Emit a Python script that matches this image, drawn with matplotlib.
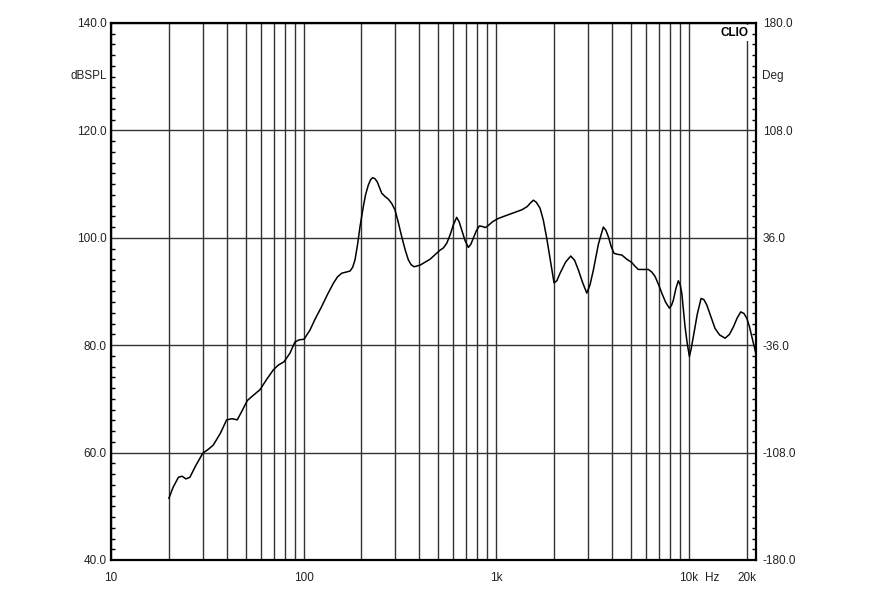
import matplotlib
matplotlib.use("Agg")
import matplotlib.pyplot as plt
from matplotlib.ticker import FixedLocator, MultipleLocator, NullFormatter

# frequency response (Hz, dBSPL)
freq = [20.0, 21.0, 22.4, 23.4, 24.5, 25.7, 27.5, 30.0, 32.0, 34.0,
        37.0, 39.9, 42.5, 45.3, 48.0, 51.1, 55.0, 59.4, 64.0, 69.7,
        74.0, 79.2, 85.0, 90.3, 95.0, 100.6, 108, 115, 124.3, 133,
        142.8, 150, 157.9, 166, 174.4, 180, 185.2, 191, 196.6, 204.5,
        210, 217, 223, 228.8, 235, 241.7, 248, 254.8, 265, 275.7,
        287, 298.7, 310, 323.7, 337, 350.3, 362, 375, 402.9, 430,
        454.1, 480, 511.9, 532.5, 555, 576.8, 600, 624.7, 643, 663,
        690, 718, 740, 762, 790, 819, 850, 880, 912, 960,
        1028, 1100, 1182, 1270, 1360, 1450, 1520, 1562, 1620, 1693,
        1760, 1834, 1920, 2001, 2070, 2150, 2300, 2444, 2560, 2677,
        2820, 2960, 3080, 3203, 3400, 3609, 3720, 3832, 3960, 4102,
        4300, 4498, 4780, 5069, 5270, 5485, 5800, 6183, 6450, 6699,
        7000, 7259, 7600, 7950, 8150, 8337, 8600, 8851, 9050, 9220,
        9400, 9590, 9850, 10100, 10300, 10590, 11100, 11610, 12000, 12430,
        13000, 13730, 14500, 15480, 16300, 17090, 17900, 18670, 19400, 20060,
        20700, 21300, 21900, 22400]
spl = [51.5, 53.5, 55.4, 55.6, 55.1, 55.4, 57.5, 59.9, 60.6, 61.4,
       63.6, 66.1, 66.3, 66.1, 67.8, 69.7, 70.7, 71.7, 73.5, 75.4,
       76.3, 76.9, 78.5, 80.6, 81.0, 81.1, 82.8, 84.9, 87.2, 89.4,
       91.5, 92.7, 93.4, 93.6, 93.8, 94.5, 95.9, 98.8, 102.1, 105.8,
       108.0, 109.8, 110.8, 111.2, 111.0, 110.4, 109.4, 108.3, 107.7, 107.2,
       106.4, 105.2, 103.0, 100.2, 97.8, 95.9, 95.0, 94.6, 94.9, 95.5,
       96.0, 96.8, 97.7, 98.1, 99.0, 100.5, 102.4, 103.8, 103.0, 101.5,
       99.5, 98.2, 98.8, 99.9, 101.3, 102.2, 102.1, 101.9, 102.3, 103.0,
       103.6, 104.0, 104.4, 104.8, 105.2, 105.8, 106.6, 107.0, 106.6, 105.5,
       103.3, 99.9, 95.6, 91.6, 92.0, 93.4, 95.5, 96.6, 95.8, 94.0,
       91.6, 89.7, 91.3, 94.0, 98.8, 102.0, 101.4, 100.2, 98.4, 97.1,
       96.9, 96.8, 96.0, 95.4, 94.7, 94.1, 94.1, 94.1, 93.6, 92.8,
       91.2, 89.7, 88.0, 86.9, 87.4, 88.4, 90.6, 92.0, 91.2, 89.7,
       86.5, 83.4, 80.2, 77.9, 79.2, 81.6, 85.8, 88.7, 88.5, 87.5,
       85.5, 83.1, 81.9, 81.3, 82.0, 83.4, 85.1, 86.2, 85.9, 85.0,
       83.5, 81.6, 79.8, 78.3]

x_major = [10, 100, 1000, 10000, 20000]
x_major_labels = ["10", "100", "1k", "10k", "20k"]
x_minor = [m * d for d in (10, 100, 1000) for m in range(2, 10)]
y_left = [40, 60, 80, 100, 120, 140]
y_right = [-180, -108, -36, 36, 108, 180]

plt.rcParams["font.family"] = ["Liberation Sans", "DejaVu Sans"]
txt = "#222222"
grid_c = "#333333"

fig = plt.figure(figsize=(8.8, 6.0), dpi=100)
ax = fig.add_axes([0.1261, 0.0667, 0.7330, 0.895])
ax.plot(freq, spl, color="black", lw=1.1, zorder=3)

ax.set_xscale("log")
ax.set_xlim(10, 22400)
ax.set_ylim(40, 140)

ax.xaxis.set_major_locator(FixedLocator(x_major))
ax.set_xticklabels(x_major_labels)
ax.xaxis.set_minor_locator(FixedLocator(x_minor))
ax.xaxis.set_minor_formatter(NullFormatter())
ax.set_yticks(y_left)
ax.set_yticklabels([f"{v:.1f}" for v in y_left])
ax.yaxis.set_minor_locator(MultipleLocator(2))

ax.grid(True, which="both", axis="x", color=grid_c, lw=1.0)
ax.grid(True, which="major", axis="y", color=grid_c, lw=1.0)
ax.tick_params(axis="x", which="both", length=0, pad=9, labelsize=8.5, labelcolor=txt)
ax.tick_params(axis="y", which="major", length=0, pad=3, labelsize=8.5, labelcolor=txt)
ax.tick_params(axis="y", which="minor", direction="in", length=3, width=1, color="black")
for s in ax.spines.values():
    s.set_linewidth(1.6)

ax2 = ax.twinx()
ax2.set_ylim(-180, 180)
ax2.set_yticks(y_right)
ax2.set_yticklabels([f"{v:.1f}" for v in y_right])
ax2.yaxis.set_minor_locator(MultipleLocator(7.2))
ax2.tick_params(axis="y", which="major", length=0, pad=5, labelsize=8.5, labelcolor=txt)
ax2.tick_params(axis="y", which="minor", direction="in", length=3, width=1, color="black")
for s in ax2.spines.values():
    s.set_visible(False)

ax.text(-0.006, 0.901, "dBSPL", transform=ax.transAxes, ha="right", va="center",
        fontsize=8.5, color=txt)
ax.text(1.009, 0.901, "Deg", transform=ax.transAxes, ha="left", va="center",
        fontsize=8.5, color=txt)
ax.text(0.9876, 0.981, "CLIO", transform=ax.transAxes, ha="right", va="center",
        fontsize=8.5, fontweight="bold", color="black", zorder=5,
        bbox=dict(facecolor="white", edgecolor="none", pad=1.5))
ax.annotate("Hz", xy=(10000, 0), xycoords=("data", "axes fraction"),
            xytext=(12, -9), textcoords="offset points", ha="left", va="top",
            fontsize=8.5, color=txt)

fig.savefig("out.png", dpi=100)
